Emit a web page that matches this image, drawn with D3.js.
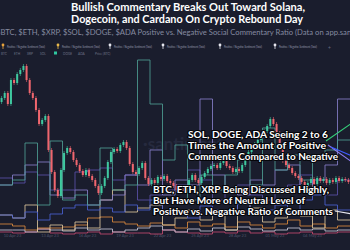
<!DOCTYPE html>
<html lang="en">
<head>
<meta charset="utf-8">
<script src="https://cdnjs.cloudflare.com/ajax/libs/d3/7.8.5/d3.min.js"></script>
<style>
  html, body { margin: 0; padding: 0; background: #1a1d2d; overflow: hidden; }
  svg { display: block; }
</style>
</head>
<body>
<script>
var width = 350
var height = 250

// 28 days, price candles every 6h, ratios daily
var startDate = new Date(2023, 3, 9)
var dayCount = 28

var firstOpen = 30450
var closes = [30550, 30675, 30400, 31000, 30925, 31150, 31250, 31350, 31000, 30675,
  30550, 30250, 29900, 30000, 30100, 29250, 28700, 28250, 28100, 28750,
  29175, 29300, 29200, 29000, 28875, 28725, 28625, 28750, 28600, 28500,
  28350, 28175, 28350, 28550, 28950, 29200, 29275, 29225, 29375, 29450,
  29300, 28900, 28700, 28650, 28800, 28925, 28550, 28400, 28500, 28425,
  28575, 28525, 28600, 28475, 28425, 28350, 28250, 28325, 28225, 28300,
  28500, 28625, 28500, 28425, 28575, 28675, 28775, 28850, 28875, 28800,
  28925, 28975, 28850, 28800, 28700, 28775, 28725, 28875, 29025, 29200,
  29300, 29400, 29500, 29600, 29725, 29850, 30025, 29900, 29675, 29300,
  28975, 28875, 28800, 28675, 28600, 28550, 28450, 28350, 28425, 28525,
  28400, 28550, 28475, 28525, 28425, 28500, 28450, 28550, 28475, 28525,
  28500, 28450]

var ratioTeal = [2.65, 2.9, 4.75, 1.65, 4.85, 1.9, 2.15, 1.65, 4.5, 2.4, 2.65, 8.9, 6.7, 3.9,
  4.65, 1.9, 3.15, 2.4, 3.15, 3.9, 2.65, 5.5, 3.4, 4.15, 2.9, 3.9, 4.4, 4.9]
var ratioLavender = [2.65, 3.15, 3.65, 3.8, 2.15, 2.0, 2.4, 1.65, 1.9, 2.15, 3.15, 2.65, 4.4, 2.15,
  2.9, 2.65, 6.95, 3.15, 2.4, 2.15, 2.9, 2.65, 3.4, 3.65, 2.4, 2.9, 3.65, 6.95]
var ratioIndigo = [3.0, 2.75, 3.3, 3.15, 2.4, 2.4, 3.3, 3.4, 3.5, 2.9, 3.15, 1.9, 2.15, 2.4,
  2.65, 3.4, 2.9, 1.9, 2.4, 2.65, 2.15, 1.9, 2.4, 2.65, 3.15, 2.4, 2.15, 2.9]
var ratioBlue = [1.15, 1.0, 1.3, 0.9, 1.2, 1.5, 1.65, 1.4, 1.5, 1.3, 1.65, 1.4, 1.9, 1.15,
  1.3, 1.0, 1.6, 1.4, 1.3, 1.7, 1.15, 1.4, 1.65, 1.3, 1.9, 2.15, 1.65, 1.4]
var ratioBeige = [1.15, 1.0, 1.65, 0.3, 0.65, 0.4, 0.8, 0.5, 1.9, 2.4, 1.3, 1.5, 1.65, 0.65,
  1.0, 1.4, 0.9, 1.2, 0.4, 1.9, 1.5, 0.8, 1.0, 1.3, 1.1, 0.5, 1.4, 0.9]
var ratioOrange = [0.7, 0.6, 0.4, 0.5, 0.5, 0.55, 0.65, 1.0, 1.05, 0.8, 0.7, 0.6, 0.75, 0.65,
  0.5, 0.8, 0.6, 0.7, 0.55, 0.8, 0.65, 0.5, 0.7, 0.9, 0.6, 0.7, 0.5, 0.6]
var ratioGray = [0.4, 0.4, 0.3, 0.45, 0.4, 0.35, 0.5, 0.4, 0.45, 0.3, 0.4, 0.5, 0.6, 0.4,
  0.3, 0.45, 0.35, 0.5, 0.4, 0.55, 0.45, 0.35, 0.4, 0.5, 0.4, 0.45, 0.35, 0.4]
var ratioPink = [0.3, 0.25, 0.3, 0.45, 0.25, 0.2, 0.25, 0.3, 0.2, 0.3, 0.25, 0.25, 0.2, 0.4,
  0.3, 0.25, 0.2, 0.3, 0.25, 0.35, 0.25, 0.3, 0.2, 0.25, 0.3, 0.2, 0.25, 0.3]

var title = ["Bullish Commentary Breaks Out Toward Solana,", "Dogecoin, and Cardano On Crypto Rebound Day"]
var subtitle = "$BTC, $ETH, $XRP, $SOL, $DOGE, $ADA Positive vs. Negative Social Commentary Ratio (Data on app.santiment.net)"
var legendNames = ["Positive / Negative Sentiment (Total)", "Positive / Negative Sentiment (Total)",
  "Positive / Negative Sentiment (Total)", "Positive / Negative Sentiment (Total)",
  "Positive / Negative Sentiment (Total)", "Positive / Negative Sentiment (Total)"]
var subLegend = ["BTC", "ETH", "XRP", "SOL", "DOGE", "ADA", "Price (BTC)"]
var noteSol = ["SOL, DOGE, ADA Seeing 2 to 6", "Times the Amount of Positive", "Comments Compared to Negative"]
var noteBtc = ["BTC, ETH, XRP Being Discussed Highly,", "But Have More of Neutral Level of", "Positive vs. Negative Ratio of Comments"]

var up = "#3fc9a0"
var down = "#f0666e"

var svg = d3.select("body").append("svg")
  .attr("width", width)
  .attr("height", height)
  .attr("font-family", "Lato, 'Open Sans', sans-serif")

svg.append("rect").attr("width", width).attr("height", height).attr("fill", "#1a1d2d")

var x = d3.scaleTime()
  .domain([startDate, d3.timeDay.offset(startDate, dayCount)])
  .range([0, width])
var yPrice = d3.scaleLinear().domain([27000, 31500]).range([240, 60])
var yRatio = d3.scaleLinear().domain([0, 9]).range([238, 58])

// watermark
svg.append("text")
  .attr("x", 143).attr("y", 150)
  .attr("font-size", 17).attr("font-weight", 700)
  .attr("fill", "#262a3e")
  .text("·santiment·")

// x axis labels
var ticks = x.ticks(d3.timeDay.every(3)).filter(d => x(d) > 4 && x(d) < width - 4)
svg.append("g").selectAll("text")
  .data(ticks)
  .join("text")
  .attr("x", d => x(d))
  .attr("y", 237)
  .attr("text-anchor", "middle")
  .attr("font-size", 4)
  .attr("fill", "#50546a")
  .text(d => d3.timeFormat("%d %b %y")(d))

// ratio step lines
var series = [
  {vals: ratioPink, color: "#c24a6e"},
  {vals: ratioGray, color: "#c4c4d4"},
  {vals: ratioOrange, color: "#d98a3d"},
  {vals: ratioBeige, color: "#d9c39a"},
  {vals: ratioBlue, color: "#4a60d0"},
  {vals: ratioIndigo, color: "#5a50a8"},
  {vals: ratioLavender, color: "#867ec8"},
  {vals: ratioTeal, color: "#4e9c92"}
]

var stepLine = d3.line()
  .x(d => x(d.date))
  .y(d => yRatio(d.v))
  .curve(d3.curveStepAfter)

svg.append("g").attr("fill", "none").attr("stroke-width", 1)
  .selectAll("path")
  .data(series)
  .join("path")
  .attr("stroke", d => d.color)
  .attr("stroke-opacity", 0.85)
  .attr("d", s => {
    var pts = s.vals.map((v, i) => ({date: d3.timeDay.offset(startDate, i), v: v}))
    pts.push({date: d3.timeDay.offset(startDate, s.vals.length), v: s.vals[s.vals.length - 1]})
    return stepLine(pts)
  })

// candles
var candles = closes.map((c, i) => ({
  date: d3.timeHour.offset(startDate, i * 6),
  open: i === 0 ? firstOpen : closes[i - 1],
  close: c
}))
var step = x(d3.timeHour.offset(startDate, 6)) - x(startDate)

var cg = svg.append("g").selectAll("g")
  .data(candles)
  .join("g")
  .attr("transform", d => `translate(${x(d.date) + step / 2},0)`)

cg.append("line")
  .attr("y1", d => yPrice(Math.max(d.open, d.close)) - 2)
  .attr("y2", d => yPrice(Math.min(d.open, d.close)) + 2)
  .attr("stroke", d => d.close >= d.open ? up : down)
  .attr("stroke-width", 0.6)

cg.append("rect")
  .attr("x", -1)
  .attr("width", 2)
  .attr("y", d => yPrice(Math.max(d.open, d.close)))
  .attr("height", d => Math.max(1, Math.abs(yPrice(d.open) - yPrice(d.close))))
  .attr("fill", d => d.close >= d.open ? up : down)

// title
svg.append("g").selectAll("text")
  .data(title)
  .join("text")
  .attr("x", 71)
  .attr("y", (d, i) => 10.5 + i * 12.2)
  .attr("font-size", 10.8)
  .attr("font-weight", 700)
  .attr("fill", "#ffffff")
  .attr("textLength", (d, i) => i === 0 ? 234 : 232)
  .attr("lengthAdjust", "spacingAndGlyphs")
  .text(d => d)

svg.append("text")
  .attr("x", -4).attr("y", 35)
  .attr("font-size", 7.6)
  .attr("fill", "#858aa0")
  .attr("textLength", 392)
  .attr("lengthAdjust", "spacingAndGlyphs")
  .text(subtitle)

// legend
var legendX = [3, 58, 110, 163, 220, 275]
var legendColors = ["#e8a33c", "#e8b84a", "#e6e6ee", "#e6e6ee", "#e6e6ee", "#e6e6ee"]
var lg = svg.append("g").selectAll("g")
  .data(legendNames)
  .join("g")
  .attr("transform", (d, i) => `translate(${legendX[i]},47)`)
lg.append("line").attr("y1", -2).attr("y2", 2).attr("stroke", (d, i) => legendColors[i]).attr("stroke-width", 0.8)
lg.append("circle").attr("cy", -2).attr("r", 1.4).attr("fill", (d, i) => legendColors[i])
lg.append("text").attr("x", 4).attr("y", 1).attr("font-size", 3.3).attr("fill", "#9a9db2")
  .attr("textLength", 38).attr("lengthAdjust", "spacingAndGlyphs")
  .text(d => d)
svg.append("text").attr("x", 328).attr("y", 50).attr("font-size", 5).attr("fill", "#6a6e84").text("+")

var subX = [1, 14, 27, 40, 63, 78, 95]
svg.append("rect").attr("x", 54).attr("y", 51.5).attr("width", 3).attr("height", 3).attr("fill", "#2fc7a0")
svg.append("g").selectAll("text")
  .data(subLegend)
  .join("text")
  .attr("x", (d, i) => subX[i])
  .attr("y", 54.5)
  .attr("font-size", 3.2)
  .attr("fill", "#6f7388")
  .text(d => d)

// pointer lines
var pointers = [
  {x1: 326, y1: 141, x2: 352, y2: 123, c: "#35d07a"},
  {x1: 328, y1: 145, x2: 352, y2: 162, c: "#8c7cf0"},
  {x1: 331, y1: 147, x2: 352, y2: 156, c: "#3f5bff"},
  {x1: 335, y1: 211, x2: 352, y2: 214, c: "#e8e8f0"}
]
svg.append("g").selectAll("line")
  .data(pointers)
  .join("line")
  .attr("x1", d => d.x1).attr("y1", d => d.y1)
  .attr("x2", d => d.x2).attr("y2", d => d.y2)
  .attr("stroke", d => d.c).attr("stroke-width", 1.1)

// annotations
function note(lines, x0, y0, widths) {
  svg.append("g").selectAll("text")
    .data(lines)
    .join("text")
    .attr("x", x0)
    .attr("y", (d, i) => y0 + i * 11)
    .attr("font-size", 8.8)
    .attr("font-weight", 700)
    .attr("fill", "#ffffff")
    .attr("stroke", "#05060a")
    .attr("stroke-width", 2.2)
    .attr("stroke-linejoin", "round")
    .attr("paint-order", "stroke")
    .attr("textLength", (d, i) => widths[i])
    .attr("lengthAdjust", "spacingAndGlyphs")
    .text(d => d)
}
note(noteSol, 188, 137.5, [140, 138, 150])
note(noteBtc, 153, 192.5, [176, 152, 180])
</script>
</body>
</html>
